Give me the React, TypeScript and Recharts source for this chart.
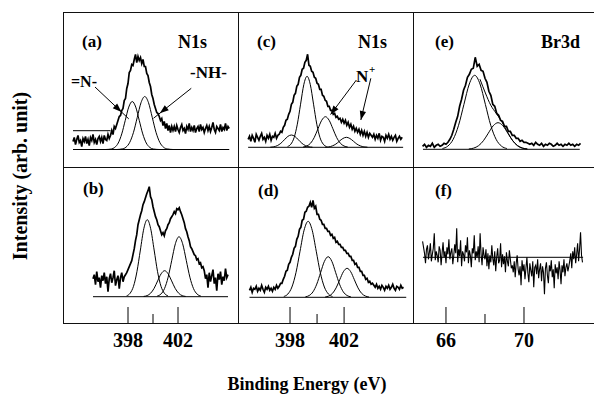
import React from 'react';
import { LineChart, Line, XAxis, YAxis, ReferenceLine } from 'recharts';

const FONT = "'Liberation Serif', 'Times New Roman', Times, serif";

// sampling grids (eV) for the measured spectra
const aStart = 393.6, bStart = 395.2, cStart = 394.9, dStart = 395.0, eStart = 64.8, fStart = 64.8;
const step = 0.1;
const fStep = 0.05;

const aSpec = [
  8, 12, 5, 10, 14, 7, 9, 3, 11, 8, 13, 6, 10, 4, 12, 9, 15, 7, 10, 5, 11, 13, 8, 12, 6, 14, 10, 9, 15, 11,
  14, 19, 15, 23, 21, 25, 29, 33, 34, 39, 41, 49, 51, 61, 66, 77, 79, 85, 84, 90, 95, 87, 93, 89, 92, 86, 90,
  83, 83, 76, 74, 67, 63, 55, 51, 45, 41, 37, 36, 33, 29, 31, 24, 28, 21, 26, 19, 24, 17, 23, 19,
  23, 18, 24, 20, 17, 22, 25, 19, 21, 16, 23, 20, 26, 18, 22, 19, 24, 17, 21, 23, 18, 25, 20, 22, 17, 21, 24,
  19, 23, 18, 22, 27, 20, 17, 23, 21, 19, 25, 18, 22, 20, 26, 19, 23, 21,
];
const bSpec = [
  18, 22, 12, 25, 15, 19, 9, 21, 16, 24, 13, 20, 5, 18, 23, 14, 19, 26, 11, 17, 21, 8, 19, 24, 15, 20, 22,
  24, 27, 30, 33, 36, 42, 48, 56, 62, 72, 77, 82, 86, 92, 95, 99, 103, 106, 110, 100, 97, 90, 85, 80, 77, 72,
  70, 66, 62, 64, 61, 66, 68, 72, 74, 78, 80, 82, 85, 83, 88, 87, 89, 85, 82, 78, 74, 68, 65, 60, 56, 50, 48,
  45, 42, 41, 37, 38, 33, 34, 29, 30,
  26, 18, 22, 9, 24, 15, 21, 27, 13, 19, 6, 23, 17, 25, 12, 20, 16, 28, 19, 22,
];
const cSpec = [
  8, 11, 6, 12, 9, 5, 13, 10, 7, 11, 14, 8, 10, 6, 12, 9, 13, 7, 11, 10, 14, 9, 12,
  13, 16, 15, 20, 22, 27, 28, 33, 36, 43, 45, 52, 54, 61, 63, 70, 72, 78, 79, 85, 87, 93, 82, 81, 76, 75, 70,
  69, 64, 63, 58, 58, 52, 51, 47, 46, 41, 41, 37, 37, 33, 34, 30, 31, 28, 29, 25, 28, 24, 27, 22, 25, 20, 23,
  18, 21, 16, 19, 15, 18, 13, 17, 12, 16, 11, 15, 10, 14, 12,
  10, 13, 8, 12, 9, 14, 7, 11, 10, 6, 12, 9, 13, 8, 11, 7, 10, 12, 6, 9, 11, 8, 10,
];
const dSpec = [
  7, 10, 5, 9, 8, 11, 6, 9, 7, 12, 8, 5, 10, 8, 11, 7, 9, 6, 10, 8, 12, 9,
  11, 14, 14, 18, 21, 26, 27, 33, 35, 40, 43, 49, 51, 58, 61, 68, 70, 77, 78, 85, 86, 90, 91, 95, 90, 97, 89,
  91, 83, 83, 78, 77, 73, 73, 69, 69, 66, 66, 62, 63, 59, 60, 55, 56, 53, 53, 50, 50, 47, 47, 44, 44, 41, 41,
  37, 37, 33, 34, 30, 30, 26, 26, 22, 22, 18, 19, 15, 16, 13, 14,
  12, 10, 13, 9, 11, 8, 12, 10, 7, 11, 9, 12, 8, 10, 13, 9, 7, 11, 10, 8, 12, 9, 10,
];
const eSpec = [
  3, 5, 2, 4, 3, 6, 2, 4, 5, 3, 4, 6, 5,
  7, 10, 14, 20, 27, 33, 43, 50, 59, 64, 72, 75, 80, 81, 92, 83, 85, 79, 78, 71, 67, 58, 54, 45, 43, 36, 34,
  29, 28, 23, 23, 18, 18, 14, 14, 11, 11, 8, 9, 7, 7, 6,
  5, 6, 4, 7, 5, 4, 6, 3, 5, 4, 6, 5, 3, 4, 6, 4, 5, 3, 5, 4, 6, 4, 5, 3, 5, 4, 6,
];
// Br3d of sample (f): noise only, relative to the flat reference line
const fSpec = [
  16, 10, 4, -6, 8, 12, -2, 5, 14, -4, 3, 9, 24, -3, 6, 2, -5, 11, 7, -8, 4, 15, 0, 6, -6, 10, 3, 18, -2, 5,
  9, -7, 2, 13, 4, 29, -5, 8, 1, 17, -9, 6, 3, -4, 12, 5, 20, -6, 7, 2, -10, 9, 4, 22, -3, 6, 0, 11, -5, 24,
  3, -8, 10, 2,
  -2, 8, -9, 4, -12, 2, -5, 12, -1, -8, 6, -14, 0, 9, -6, -3, 14, -10, 3, -7, 1, -15, 5, -4, -9, 7, -2, -11,
  -8, -15, -4, -20, -6, 2, -12, -18, -9, -28, -3, -14, -7, -22, -11, 0, -16, -25, -6, -13, -19, -4, -30, -10,
  -8, -17, -2, -21, -12, -6, -24, -9, -15, -37, -11, -5, -18, -26, -8, -14, -3, -20, -12, -31, -7, -16, -10,
  -22, -4, -13, -27, -8, -15, -2, -19, -10, -6, -14,
  -9, -3, 4, -11, 6, -2, 10, -6, 3, 14, -4, 8, 25, 2, -5,
];

// fitted components [eV, height]
const aPeakN = [[396.2, 0], [396.66, 0.5], [396.94, 2.1], [397.22, 6.5], [397.5, 15.6], [397.78, 29.1], [398.06, 42.4], [398.34, 48], [398.62, 42.4], [398.9, 29.1], [399.18, 15.6], [399.46, 6.5], [399.74, 2.1], [400.02, 0.5], [400.5, 0]];
const aPeakNH = [[397.1, 0], [397.54, 0.6], [397.84, 2.3], [398.14, 7.2], [398.44, 17.2], [398.74, 32.1], [399.04, 46.8], [399.34, 53], [399.64, 46.8], [399.94, 32.1], [400.24, 17.2], [400.54, 7.2], [400.84, 2.3], [401.14, 0.6], [401.6, 0]];
const bPeak1 = [[397.89, 0.9], [398.165, 3.4], [398.44, 10.4], [398.715, 25], [398.99, 46.7], [399.265, 68], [399.54, 77], [399.815, 68], [400.09, 46.7], [400.365, 25], [400.64, 10.4], [400.915, 3.4], [401.19, 0.9]];
const bPeak2 = [[399.25, 0.3], [399.53, 1.1], [399.81, 3.5], [400.09, 8.4], [400.37, 15.8], [400.65, 22.9], [400.93, 26], [401.21, 22.9], [401.49, 15.8], [401.77, 8.4], [402.05, 3.5], [402.33, 1.1], [402.61, 0.3]];
const bPeak3 = [[400.34, 0.7], [400.63, 2.6], [400.92, 8.1], [401.21, 19.5], [401.5, 36.4], [401.79, 53], [402.08, 60], [402.37, 53], [402.66, 36.4], [402.95, 19.5], [403.24, 8.1], [403.53, 2.6], [403.82, 0.7]];
const cPeak1 = [[396.54, 0.1], [396.8, 0.5], [397.06, 1.7], [397.32, 4], [397.58, 7.5], [397.84, 10.9], [398.1, 12.3], [398.36, 10.9], [398.62, 7.5], [398.88, 4], [399.14, 1.7], [399.4, 0.5], [399.66, 0.1]];
const cPeak2 = [[397.82, 0.8], [398.06, 3.1], [398.3, 9.6], [398.54, 23.1], [398.78, 43.1], [399.02, 62.7], [399.26, 71], [399.5, 62.7], [399.74, 43.1], [399.98, 23.1], [400.22, 9.6], [400.46, 3.1], [400.7, 0.8]];
const cPeak3 = [[398.97, 0.3], [399.245, 1.3], [399.52, 4.1], [399.795, 9.9], [400.07, 18.6], [400.345, 27], [400.62, 30.6], [400.895, 27], [401.17, 18.6], [401.445, 9.9], [401.72, 4.1], [401.995, 1.3], [402.27, 0.3]];
const cPeak4 = [[400.61, 0.1], [400.87, 0.4], [401.13, 1.4], [401.39, 3.2], [401.65, 6.1], [401.91, 8.8], [402.17, 10], [402.43, 8.8], [402.69, 6.1], [402.95, 3.2], [403.21, 1.4], [403.47, 0.4], [403.73, 0.1]];
const dPeak1 = [[397.54, 0.8], [397.84, 3.3], [398.14, 10.3], [398.44, 24.7], [398.74, 46.1], [399.04, 67.1], [399.34, 76], [399.64, 67.1], [399.94, 46.1], [400.24, 24.7], [400.54, 10.3], [400.84, 3.3], [401.14, 0.8]];
const dPeak2 = [[399.14, 0.5], [399.42, 1.8], [399.7, 5.5], [399.98, 13.2], [400.26, 24.6], [400.54, 35.8], [400.82, 40.6], [401.1, 35.8], [401.38, 24.6], [401.66, 13.2], [401.94, 5.5], [402.22, 1.8], [402.5, 0.5]];
const dPeak3 = [[400.6, 0.3], [400.87, 1.3], [401.14, 3.9], [401.41, 9.4], [401.68, 17.6], [401.95, 25.6], [402.22, 29], [402.49, 25.6], [402.76, 17.6], [403.03, 9.4], [403.3, 3.9], [403.57, 1.3], [403.84, 0.3]];
const ePeak1 = [[65.82, 0.8], [66.095, 3.2], [66.37, 10], [66.645, 24], [66.92, 44.9], [67.195, 65.3], [67.47, 74], [67.745, 65.3], [68.02, 44.9], [68.295, 24], [68.57, 10], [68.845, 3.2], [69.12, 0.8]];
const ePeak2 = [[67.17, 0.3], [67.42, 1.2], [67.67, 3.6], [67.92, 8.6], [68.17, 16.1], [68.42, 23.5], [68.67, 26.6], [68.92, 23.5], [69.17, 16.1], [69.42, 8.6], [69.67, 3.6], [69.92, 1.2], [70.17, 0.3]];
const eEnvelope = [[67.745, 70.1], [68.02, 56.3], [68.295, 44.1], [68.57, 36.1], [68.845, 28.2], [69.12, 18.5], [69.42, 8.7], [69.67, 3.6], [69.92, 1.2], [70.17, 0.3]];

// baselines [eV, height]
const aBase = [[393.6, 0], [406.1, 0]];
const aBack = [[393.6, 18.8], [396.6, 18.8]];
const bBase = [[395.2, 0], [406.0, 0]];
const cBase = [[394.9, 0], [406.37, 0]];
const dBase = [[395.0, 0], [406.6, 0]];
const eBase = [[64.82, 0], [72.86, 0]];
const fBase = [[64.82, 0], [73.03, 0]];

// axis ticks
const nTicks = [398, 400, 402];
const nLabels = ['398', '', '402'];
const brTicks = [66, 68, 70];
const brLabels = ['66', '', '70'];

const grid = (start: number, vals: number[], dx = step) =>
  vals.map((v, i) => ({ x: Math.round((start + i * dx) * 1000) / 1000, y: v }));
const pairs = (arr: number[][]) => arr.map(([x, y]) => ({ x, y }));

const makeTick = (ticks: number[], labels: string[]) => (props: any) => {
  const { x, y, payload } = props;
  const label = labels[ticks.indexOf(payload.value)];
  const len = label ? 16 : 9;
  return (
    <g>
      <line x1={x} y1={y - len} x2={x} y2={y} stroke="#000" strokeWidth={1} />
      {label && (
        <text x={x} y={y + 24} textAnchor="middle" style={{ fontFamily: FONT, fontWeight: 700, fontSize: 20 }} fill="#000">
          {label}
        </text>
      )}
    </g>
  );
};

const arrowShape = (ext: number) => (p: any) => {
  const { x1, y1, x2, y2 } = p;
  const dx = x2 - x1;
  const dy = y2 - y1;
  const L = Math.hypot(dx, dy) || 1;
  const ux = dx / L;
  const uy = dy / L;
  const bx = x2 - ux * 9;
  const by = y2 - uy * 9;
  return (
    <g>
      <line x1={x1} y1={y1} x2={x2 + ux * ext} y2={y2 + uy * ext} stroke="#000" strokeWidth={1} />
      <polygon
        points={`${x2},${y2} ${bx - uy * 3.2},${by + ux * 3.2} ${bx + uy * 3.2},${by - ux * 3.2}`}
        fill="#000"
      />
    </g>
  );
};

interface SeriesDef {
  data: { x: number; y: number }[];
  smooth?: boolean;
  width?: number;
}

interface PanelProps {
  left: number;
  top: number;
  width: number;
  height: number;
  xDomain: [number, number];
  yDomain: [number, number];
  series: SeriesDef[];
  ticks?: number[];
  labels?: string[];
  arrows?: { seg: { x: number; y: number }[]; ext: number }[];
}

function Panel({ left, top, width, height, xDomain, yDomain, series, ticks, labels, arrows }: PanelProps) {
  const withAxis = !!ticks;
  return (
    <div style={{ position: 'absolute', left, top }}>
      <LineChart width={width} height={height} margin={{ top: 0, right: 0, bottom: 0, left: 0 }}>
        <XAxis
          type="number"
          dataKey="x"
          domain={xDomain}
          allowDataOverflow
          hide={!withAxis}
          height={30}
          ticks={ticks}
          interval={0}
          axisLine={false}
          tickLine={false}
          tickSize={0}
          tickMargin={0}
          tick={withAxis ? makeTick(ticks!, labels!) : false}
        />
        <YAxis type="number" domain={yDomain} allowDataOverflow hide />
        {series.map((s, i) => (
          <Line
            key={i}
            data={s.data}
            dataKey="y"
            type={s.smooth ? 'monotone' : 'linear'}
            stroke="#000"
            strokeWidth={s.width ?? 1}
            strokeLinejoin="miter"
            dot={false}
            activeDot={false}
            isAnimationActive={false}
          />
        ))}
        {(arrows || []).map((a, i) => (
          <ReferenceLine key={'ar' + i} segment={a.seg} shape={arrowShape(a.ext)} ifOverflow="visible" />
        ))}
      </LineChart>
    </div>
  );
}

const hline = (left: number, top: number, width: number) => (
  <div style={{ position: 'absolute', left, top, width, height: 1, background: '#111' }} />
);
const vline = (left: number, top: number, height: number) => (
  <div style={{ position: 'absolute', left, top, width: 1, height, background: '#111' }} />
);

const txt = (size: number): React.CSSProperties => ({ fontFamily: FONT, fontWeight: 700, fontSize: size });

export default function App() {
  const abX: [number, number] = [392.8, 406.8];
  const cdX: [number, number] = [394.15, 407.1];
  const efX: [number, number] = [64.36, 73.59];
  const spec = 1.7;
  return (
    <div style={{ position: 'absolute', left: 0, top: 0, width: 594, height: 396, background: '#fff', overflow: 'hidden', fontFamily: FONT }}>
      <Panel
        left={63} top={12} width={175} height={155} xDomain={abX} yDomain={[-17.5, 137.5]}
        series={[
          { data: pairs(aBase) }, { data: pairs(aBack) },
          { data: pairs(aPeakN), smooth: true }, { data: pairs(aPeakNH), smooth: true },
          { data: grid(aStart, aSpec), width: spec },
        ]}
        arrows={[
          { seg: [{ x: 395.36, y: 62.5 }, { x: 397.48, y: 37.5 }], ext: 10 },
          { seg: [{ x: 403.06, y: 61.2 }, { x: 400.54, y: 36.2 }], ext: 8 },
        ]}
      />
      <Panel
        left={63} top={167} width={175} height={186} xDomain={abX} yDomain={[-26.3, 129.7]}
        series={[
          { data: pairs(bBase) },
          { data: pairs(bPeak1), smooth: true }, { data: pairs(bPeak2), smooth: true }, { data: pairs(bPeak3), smooth: true },
          { data: grid(bStart, bSpec), width: spec },
        ]}
        ticks={nTicks} labels={nLabels}
      />
      <Panel
        left={238} top={12} width={175} height={155} xDomain={cdX} yDomain={[-19.7, 135.3]}
        series={[
          { data: pairs(cBase) },
          { data: pairs(cPeak1), smooth: true }, { data: pairs(cPeak2), smooth: true },
          { data: pairs(cPeak3), smooth: true }, { data: pairs(cPeak4), smooth: true },
          { data: grid(cStart, cSpec), width: spec },
        ]}
        arrows={[
          { seg: [{ x: 402.91, y: 67.3 }, { x: 401.0, y: 32.8 }], ext: 0 },
          { seg: [{ x: 403.98, y: 69 }, { x: 403.24, y: 27.3 }], ext: 0 },
        ]}
      />
      <Panel
        left={238} top={167} width={175} height={186} xDomain={cdX} yDomain={[-25.7, 130.3]}
        series={[
          { data: pairs(dBase) },
          { data: pairs(dPeak1), smooth: true }, { data: pairs(dPeak2), smooth: true }, { data: pairs(dPeak3), smooth: true },
          { data: grid(dStart, dSpec), width: spec },
        ]}
        ticks={nTicks} labels={nLabels}
      />
      <Panel
        left={414} top={12} width={180} height={155} xDomain={efX} yDomain={[-17.7, 137.3]}
        series={[
          { data: pairs(eBase) },
          { data: pairs(ePeak1), smooth: true }, { data: pairs(ePeak2), smooth: true },
          { data: pairs(eEnvelope), smooth: true },
          { data: grid(eStart, eSpec), width: spec },
        ]}
      />
      <Panel
        left={414} top={167} width={180} height={186} xDomain={efX} yDomain={[-65.7, 90.3]}
        series={[
          { data: grid(fStart, fSpec, fStep), width: 1.1 },
          { data: pairs(fBase) },
        ]}
        ticks={brTicks} labels={brLabels}
      />

      {hline(63, 12, 531)}
      {hline(63, 167, 531)}
      {hline(63, 323, 531)}
      {vline(63, 12, 312)}
      {vline(238, 12, 312)}
      {vline(413, 12, 312)}

      <svg width={594} height={396} style={{ position: 'absolute', left: 0, top: 0, pointerEvents: 'none' }}>
        <g fill="#000">
          <text x={82} y={47} style={txt(17)}>(a)</text>
          <text x={178} y={48} style={txt(18)}>N1s</text>
          <text x={257} y={47} style={txt(17)}>(c)</text>
          <text x={358} y={48} style={txt(18)}>N1s</text>
          <text x={435} y={47} style={txt(17)}>(e)</text>
          <text x={541} y={48} style={txt(18)}>Br3d</text>
          <text x={83} y={194} style={txt(17)}>(b)</text>
          <text x={258} y={196} style={txt(17)}>(d)</text>
          <text x={435} y={196} style={txt(17)}>(f)</text>
          <text x={71} y={87} style={txt(16)}>=N-</text>
          <text x={190} y={78} style={txt(17)}>-NH-</text>
          <text x={356} y={82} style={txt(17)}>N</text>
          <text x={369} y={73} style={txt(11)}>+</text>
          <text x={307} y={390} textAnchor="middle" style={txt(18)}>Binding Energy (eV)</text>
          <text transform="translate(27,176) rotate(-90)" textAnchor="middle" style={txt(20)}>Intensity (arb. unit)</text>
        </g>
      </svg>
    </div>
  );
}
